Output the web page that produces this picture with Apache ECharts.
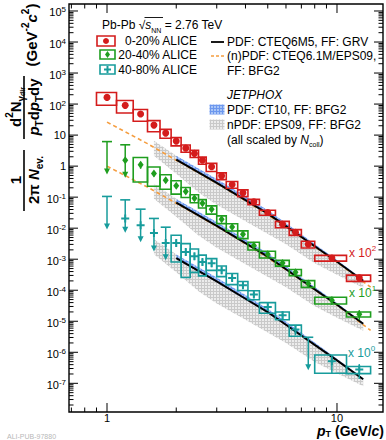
<!DOCTYPE html>
<html>
<head>
<meta charset="utf-8">
<script src="https://cdn.jsdelivr.net/npm/echarts@6.0.0/dist/echarts.min.js"></script>
<style>html,body{margin:0;padding:0;background:#fff;}#chart{width:386px;height:440px;}</style>
</head>
<body>
<div id="chart"></div>
<script>
// ---------------- data ----------------
const ptBins = [1.0,1.2,1.4,1.6,1.8,2.0,2.2,2.4,2.6,2.85,3.15,3.5,3.9,4.35,5.0,5.8,6.6,7.5,9.5,12.5];
const binLo  = [0.9,1.1,1.3,1.5,1.7,1.9,2.1,2.3,2.5,2.7,3.0,3.3,3.7,4.1,4.6,5.4,6.2,7.0,8.0,11.0];
const binHi  = [1.1,1.3,1.5,1.7,1.9,2.1,2.3,2.5,2.7,3.0,3.3,3.7,4.1,4.6,5.4,6.2,7.0,8.0,11.0,14.0];

// 0-20% (x 10^2)
const cent0020 = [164,90.8,47.6,21,11.6,6.4,3.8,2.57,1.55,0.95,0.486,0.257,0.138,0.0708,0.032,0.01346,0.0074,0.00305,0.0011,0.00025];
const sys0020  = [0.44,0.43,0.41,0.39,0.32,0.30,0.26,0.26,0.26,0.29,0.245,0.245,0.245,0.195,0.18,0.23,0.21,0.245,0.21,0.23];
const stat0020 = [0.05,0.06,0.07,0.08,0.08,0.08,0.08,0.08,0.08,0.08,0.08,0.08,0.08,0.08,0.08,0.1,0.1,0.12,0.15,0.25];

// 20-40% (x 10^1)
const cent2040 = [null,null,1.10,0.582,0.353,0.232,0.151,0.093,0.064,0.0404,0.0195,0.011,0.0064,0.00275,0.00145,0.00076,0.00038,0.000164,4.75e-5,1.68e-5];
const sys2040  = [null,null,0.72,0.615,0.49,0.46,0.355,0.29,0.30,0.30,0.28,0.26,0.28,0.28,0.245,0.21,0.22,0.245,0.245,0.18];
const stat2040 = [null,null,0.25,0.2,0.18,0.15,0.15,0.15,0.15,0.15,0.15,0.15,0.15,0.15,0.15,0.15,0.2,0.25,0.3,0.35];
const ul2040Pt   = [1.0,1.2];
const ul2040Val  = [6.17,4.87];
const ul2040Cent = [null,1.56];

// 40-80% (x 10^0)
const cent4080 = [null,null,null,null,null,0.00336,0.00172,0.00125,8.2e-4,7.4e-4,4.41e-4,2.49e-4,1.45e-4,7.26e-5,2.9e-5,1.56e-5,5.4e-6,null,5.13e-7,2.77e-7];
const sys4080  = [null,null,null,null,null,0.757,0.85,0.70,0.646,0.41,0.377,0.39,0.32,0.32,0.377,0.28,0.39,null,0.59,0.26];
const stat4080 = [null,null,null,null,null,0.25,0.25,0.25,0.25,0.25,0.25,0.2,0.2,0.2,0.25,0.3,0.35,null,0.6,0.5];
const ul4080Pt   = [1.0,1.2,1.4,1.6,1.8,7.5];
const ul4080Val  = [0.1055,0.0818,0.041,0.0206,0.01076,3.05e-6];
const ul4080Cent = [null,0.0206,0.0125,0.00705,0.00336,null];

// pQCD PDF: CTEQ6M5, FF: GRV (solid black)
const thPt     = [2,3,4,5,6,8,10,13];
const pdf0020  = [1.62,0.289,0.080,0.0294,0.0116,0.00262,8.3e-4,2.02e-4];
const pdf2040  = [0.0664,0.01185,0.00328,0.00121,4.76e-4,1.07e-4,3.4e-5,8.3e-6];
const pdf4080  = [1.076e-3,1.92e-4,5.31e-5,1.96e-5,7.7e-6,1.73e-6,5.5e-7,1.35e-7];
// JETPHOX PDF CT10 band (blue)
const ct10Hi0020 = [2.15,0.385,0.106,0.038,0.0148,0.0031,9.4e-4,2.2e-4];
const ct10Lo0020 = [1.52,0.27,0.075,0.0276,0.0109,0.00248,7.9e-4,1.94e-4];
const ct10Hi2040 = [0.088,0.0158,0.00435,0.00156,6.07e-4,1.27e-4,3.85e-5,9.0e-6];
const ct10Lo2040 = [0.0623,0.0111,0.00308,0.00113,4.47e-4,1.02e-4,3.24e-5,7.95e-6];
const ct10Hi4080 = [1.43e-3,2.56e-4,7.05e-5,2.53e-5,9.8e-6,2.06e-6,6.2e-7,1.46e-7];
const ct10Lo4080 = [1.01e-3,1.8e-4,4.98e-5,1.84e-5,7.2e-6,1.65e-6,5.25e-7,1.3e-7];
// (n)PDF CTEQ6.1M/EPS09, FF BFG2 (orange dashed)
const epsPt     = [1,1.5,2,3,4,6,8,10,14];
const eps0020   = [26.2,5.3,1.55,0.28,0.077,0.0112,0.00255,8.0e-4,1.25e-4];
const eps2040   = [1.0,0.21,0.0635,0.0115,0.00316,4.6e-4,1.04e-4,3.3e-5,5.1e-6];
// JETPHOX nPDF EPS09 band (grey)
const nbPt        = [1.6,2,2.5,3,4,6,8,10,13];
const eps09Hi0020 = [6.6,2.18,0.721,0.289,0.080,0.0116,0.00262,8.3e-4,2.02e-4];
const eps09Lo0020 = [2.16,0.573,0.1406,0.0565,0.0168,0.00305,7.4e-4,3.16e-4,1.2e-4];
const eps09Hi2040 = [0.27,0.0894,0.0296,0.01185,0.00328,4.76e-4,1.07e-4,3.4e-5,8.3e-6];
const eps09Lo2040 = [0.0886,0.0235,0.00576,0.00232,6.9e-4,1.25e-4,3.04e-5,1.3e-5,4.9e-6];
const eps09Hi4080 = [0.00437,0.00145,4.8e-4,1.92e-4,5.31e-5,7.7e-6,1.73e-6,5.5e-7,1.35e-7];
const eps09Lo4080 = [0.00144,3.8e-4,9.3e-5,3.76e-5,1.12e-5,2.0e-6,4.9e-7,2.1e-7,8.0e-8];

// axis ticks
const xTickValues = [1,10];
const xTickLabels = ['1','10'];
const xMinorValues = [0.7,0.8,0.9,2,3,4,5,6,7,8,9];
const yTickValues = [1e-7,1e-6,1e-5,1e-4,1e-3,1e-2,1e-1,1,10,1e2,1e3,1e4,1e5];
const yTickLabels = ['{n|10}{s|-7}','{n|10}{s|-6}','{n|10}{s|-5}','{n|10}{s|-4}','{n|10}{s|-3}','{n|10}{s|-2}','{n|10}{s|-1}','{n|1}','{n|10}','{n|10}{s|2}','{n|10}{s|3}','{n|10}{s|4}','{n|10}{s|5}'];

// ---------------- style ----------------
const FONT = '"Liberation Sans", Arial, Helvetica, sans-serif';
const RED = '#d41c1c', GREEN = '#1f9e1f', TEAL = '#179c9c', ORANGE = '#f59d3f';

function patternURL(c1, c2) {
  const cv = document.createElement('canvas'); cv.width = 3; cv.height = 3;
  const g = cv.getContext('2d');
  g.fillStyle = c2; g.fillRect(0,0,3,3);
  g.fillStyle = c1; g.fillRect(0,0,3,1); g.fillRect(0,0,1,3);
  return cv.toDataURL();
}
const greyFill = {image: patternURL('#c9c9c9', '#ececec'), repeat: 'repeat'};
const blueFill = {image: patternURL('#6c97ee', '#a9c5f6'), repeat: 'repeat'};

function bandSeries(pts, hi, lo, fill, z) {
  return {type:'custom', coordinateSystem:'cartesian2d', z, silent:true, data:[[pts[0], hi[0]]],
    renderItem:(params, api) => {
      const points = [];
      for (let i = 0; i < pts.length; i++) points.push(api.coord([pts[i], hi[i]]));
      for (let i = pts.length - 1; i >= 0; i--) points.push(api.coord([pts[i], lo[i]]));
      return {type:'polygon', shape:{points}, style:{fill}};
    }};
}
function lineSeries(pts, vals, color, width, dashed, z) {
  return {type:'line', z, silent:true, showSymbol:false, symbol:'none', smooth:false,
    data: pts.map((p,i)=>[p, vals[i]]),
    lineStyle:{color, width, type: dashed ? [4,3] : 'solid'}};
}
function boxSeries(cent, sys, color, z) {
  const data = [];
  cent.forEach((v,i)=>{ if (v != null) data.push([binLo[i], binHi[i], v, sys[i]]); });
  return {type:'custom', z, silent:true, data, encode:{x:0, y:2},
    renderItem:(params, api) => {
      const lo = api.value(0), hi = api.value(1), v = api.value(2), s = api.value(3);
      const a = api.coord([lo, v*(1+s)]), b = api.coord([hi, v*(1-s)]);
      return {type:'rect', shape:{x:a[0], y:a[1], width:b[0]-a[0], height:b[1]-a[1]},
        style:{fill:'none', stroke:color, lineWidth:1.6}};
    }};
}
function statSeries(cent, stat, color, z) {
  const data = [];
  cent.forEach((v,i)=>{ if (v != null) data.push([ptBins[i], v, stat[i]]); });
  return {type:'custom', z, silent:true, data,
    renderItem:(params, api) => {
      const p = api.value(0), v = api.value(1), s = api.value(2);
      const a = api.coord([p, v*(1+s)]), b = api.coord([p, v*(1-s)]);
      return {type:'line', shape:{x1:a[0], y1:a[1], x2:b[0], y2:b[1]}, style:{stroke:color, lineWidth:1.5}};
    }};
}
function markerSeries(pts, cent, color, symbol, size, z) {
  const data = [];
  cent.forEach((v,i)=>{ if (v != null) data.push([pts[i], v]); });
  return {type:'scatter', z, silent:true, data, symbol, symbolSize:size,
    itemStyle:{color, opacity:1}};
}
function ulSeries(pts, vals, color, z) {
  return {type:'custom', z, silent:true, data: pts.map((p,i)=>[p, vals[i]]),
    renderItem:(params, api) => {
      const c = api.coord([api.value(0), api.value(1)]);
      const x = c[0], y = c[1];
      return {type:'group', children:[
        {type:'line', shape:{x1:x-5, y1:y, x2:x+5, y2:y}, style:{stroke:color, lineWidth:1.6}},
        {type:'line', shape:{x1:x, y1:y, x2:x, y2:y+29}, style:{stroke:color, lineWidth:1.5}},
        {type:'polygon', shape:{points:[[x-3,y+27],[x+3,y+27],[x,y+33]]}, style:{fill:color}}
      ]};
    }};
}
const crossPath = 'path://M3,0H5V3H8V5H5V8H3V5H0V3H3Z';

function frameSeries() {
  return {type:'custom', z:50, silent:true, data:[[1,1]],
    renderItem:(params, api) => {
      const cs = params.coordSys;
      const L = cs.x, R = cs.x + cs.width, T = cs.y, B = cs.y + cs.height;
      const kids = [];
      const ln = (x1,y1,x2,y2) => ({type:'line', shape:{x1,y1,x2,y2}, style:{stroke:'#000', lineWidth:1}});
      xTickValues.forEach(v => { const x = api.coord([v,1])[0]; kids.push(ln(x,B,x,B-9), ln(x,T,x,T+9)); });
      xMinorValues.forEach(v => { const x = api.coord([v,1])[0]; if (x > L + 1 && x < R - 1) kids.push(ln(x,B,x,B-4.5), ln(x,T,x,T+4.5)); });
      yTickValues.forEach(v => { const y = api.coord([1,v])[1]; kids.push(ln(L,y,L+9,y), ln(R,y,R-9,y)); });
      for (let e = -8; e <= 5; e++) {
        for (let m = 2; m <= 9; m++) {
          const y = api.coord([1, m*Math.pow(10,e)])[1];
          if (y > T + 1 && y < B - 1) kids.push(ln(L,y,L+4.5,y), ln(R,y,R-4.5,y));
        }
      }
      kids.push({type:'rect', shape:{x:L, y:T, width:cs.width, height:cs.height}, style:{fill:'none', stroke:'#000', lineWidth:1.4}});
      xTickValues.forEach((v,i) => {
        const x = api.coord([v,1])[0];
        kids.push({type:'text', style:{text:xTickLabels[i], x, y:B+5.6, align:'center', textAlign:'center', verticalAlign:'middle', textVerticalAlign:'middle', fontSize:11, lineHeight:11, fontFamily:FONT, fill:'#000'}});
      });
      yTickValues.forEach((v,i) => {
        const y = api.coord([1,v])[1] + (yTickLabels[i].indexOf('{s|') >= 0 ? 1.5 : 0);
        kids.push({type:'text', style:{text:yTickLabels[i], x:L-3, y, align:'right', textAlign:'right', verticalAlign:'middle', textVerticalAlign:'middle', fill:'#000',
          rich:{n:{fontSize:11, fontFamily:FONT, lineHeight:13, fill:'#000'}, s:{fontSize:8, fontFamily:FONT, lineHeight:8, verticalAlign:'top', fill:'#000'}}}});
      });
      return {type:'group', children:kids};
    }};
}

// rich styles for texts
function richSet(size, color, lhFactor) {
  const lh = Math.round(size*(lhFactor||1.45));
  return {
    n:{fontSize:size, fontFamily:FONT, lineHeight:lh, fill:color, color},
    i:{fontSize:size, fontFamily:FONT, fontStyle:'italic', lineHeight:lh, fill:color, color},
    b:{fontSize:size, fontFamily:FONT, fontWeight:'bold', lineHeight:lh, fill:color, color},
    bi:{fontSize:size, fontFamily:FONT, fontWeight:'bold', fontStyle:'italic', lineHeight:lh, fill:color, color},
    sp:{fontSize:Math.round(size*0.66), fontFamily:FONT, fontWeight:'bold', lineHeight:Math.round(size*0.66), verticalAlign:'top', fill:color, color},
    sup:{fontSize:Math.round(size*0.66), fontFamily:FONT, lineHeight:Math.round(size*0.66), verticalAlign:'top', fill:color, color},
    sb:{fontSize:Math.round(size*0.66), fontFamily:FONT, fontWeight:'bold', lineHeight:Math.round(size*0.66), verticalAlign:'bottom', fill:color, color},
    sub:{fontSize:Math.round(size*0.62), fontFamily:FONT, lineHeight:Math.round(size*0.62), verticalAlign:'bottom', fill:color, color},
    ssb:{fontSize:Math.round(size*0.48), fontFamily:FONT, fontWeight:'bold', lineHeight:Math.round(size*0.2), verticalAlign:'bottom', fill:color, color}
  };
}
function txt(x, y, text, size, color, align, extra, lhFactor) {
  return Object.assign({type:'text', x, y, silent:true, z:100,
    style:{text, x:0, y:0, align:align||'left', textAlign:align||'left', verticalAlign:'middle', textVerticalAlign:'middle',
      fontSize:size, fontFamily:FONT, fill:color, rich:richSet(size, color, lhFactor)}}, extra||{});
}
function gline(x1,y1,x2,y2,color,w,dash) {
  return {type:'line', silent:true, z:100, shape:{x1,y1,x2,y2}, style:{stroke:color, lineWidth:w, lineDash:dash||null}};
}

const ROT = Math.PI/2;
const graphics = [
  // y-axis title (rotated)
  txt(15, 107, '{b|d}{sp|2}{b|N}{sb|γ}{ssb|dir}', 15, '#000', 'center', {rotation:ROT}),
  txt(33, 107, '{bi|p}{sb|T}{b|d}{bi|p}{sb|T}{b|dy}', 15, '#000', 'center', {rotation:ROT}),
  gline(24, 76, 24, 139, '#000', 1.6),
  txt(15, 180, '{b|1}', 15, '#000', 'center', {rotation:ROT}),
  txt(33, 180, '{b|2π }{bi|N}{sb|ev.}', 15, '#000', 'center', {rotation:ROT}),
  gline(24, 150, 24, 211, '#000', 1.6),
  txt(31, 35, '{b|(GeV}{sp|-2}{bi|c}{sp|2}{b|)}', 15, '#000', 'center', {rotation:ROT}),
  // x-axis title
  txt(384, 431, '{bi|p}{sb|T}{b| (GeV/}{bi|c}{b|)}', 14, '#000', 'right', null, 1.0),
  // legend left
  txt(102, 25, '{n|Pb-Pb }{n|√}{i|s}{sub|NN}{n| = 2.76 TeV}', 12, '#000', 'left'),
  gline(144.5, 17.5, 163, 17.5, '#000', 0.9),
  {type:'rect', silent:true, z:100, shape:{x:97, y:36, width:18, height:10}, style:{fill:'none', stroke:RED, lineWidth:1.6}},
  {type:'circle', silent:true, z:100, shape:{cx:106, cy:41, r:3}, style:{fill:RED}},
  txt(197, 41, '{n|0-20% ALICE}', 12, '#000', 'right'),
  {type:'rect', silent:true, z:100, shape:{x:100, y:50, width:15, height:9}, style:{fill:'none', stroke:GREEN, lineWidth:1.6}},
  {type:'polygon', silent:true, z:100, shape:{points:[[107.5,51],[110,54.5],[107.5,58],[105,54.5]]}, style:{fill:GREEN}},
  txt(197, 55, '{n|20-40% ALICE}', 12, '#000', 'right'),
  {type:'rect', silent:true, z:100, shape:{x:100, y:65, width:15, height:9}, style:{fill:'none', stroke:TEAL, lineWidth:1.6}},
  gline(104, 69.5, 111, 69.5, TEAL, 2), gline(107.5, 66, 107.5, 73, TEAL, 2),
  txt(197, 69.5, '{n|40-80% ALICE}', 12, '#000', 'right'),
  // legend right
  gline(211, 42, 224, 42, '#000', 1.8),
  txt(227, 42, '{n|PDF: CTEQ6M5, FF: GRV}', 12, '#000', 'left'),
  gline(211, 56, 224, 56, ORANGE, 1.5, [3,2]),
  txt(227, 56, '{n|(n)PDF: CTEQ6.1M/EPS09,}', 12, '#000', 'left'),
  txt(227, 70.5, '{n|FF: BFG2}', 12, '#000', 'left'),
  txt(227, 94.5, '{i|JETPHOX}', 12, '#000', 'left'),
  {type:'rect', silent:true, z:100, shape:{x:209.5, y:104.5, width:15, height:10}, style:{fill:blueFill}},
  txt(227, 109.5, '{n|PDF: CT10, FF: BFG2}', 12, '#000', 'left'),
  {type:'rect', silent:true, z:100, shape:{x:209.5, y:119.5, width:15, height:10}, style:{fill:greyFill}},
  txt(227, 124.5, '{n|nPDF: EPS09, FF: BFG2}', 12, '#000', 'left'),
  txt(227, 139.5, '{n|(all scaled by }{i|N}{sub|coll}{n|)}', 12, '#000', 'left'),
  // scale labels
  txt(349, 253, '{n|x 10}{sup|2}', 12, RED, 'left'),
  txt(349, 293, '{n|x 10}{sup|1}', 12, GREEN, 'left'),
  txt(348, 353, '{n|x 10}{sup|0}', 12, TEAL, 'left'),
  // watermark
  txt(7, 436, '{n|ALI-PUB-97880}', 7, '#b8b8b8', 'left')
];

const chart = echarts.init(document.getElementById('chart'), null, {renderer:'svg', width:386, height:440});
const axisCommon = {axisLine:{show:false}, axisTick:{show:false}, axisLabel:{show:false}, splitLine:{show:false}, minorTick:{show:false}, minorSplitLine:{show:false}};
chart.setOption({
  animation:false,
  backgroundColor:'#fff',
  grid:{left:69, right:3, top:4, bottom:28, show:false},
  xAxis:Object.assign({type:'log', logBase:10, min:0.6835, max:15.85}, axisCommon),
  yAxis:Object.assign({type:'log', logBase:10, min:1.19e-8, max:1.68e5}, axisCommon),
  series:[
    bandSeries(nbPt, eps09Hi0020, eps09Lo0020, greyFill, 1),
    bandSeries(nbPt, eps09Hi2040, eps09Lo2040, greyFill, 1),
    bandSeries(nbPt, eps09Hi4080, eps09Lo4080, greyFill, 1),
    bandSeries(thPt, ct10Hi0020, ct10Lo0020, blueFill, 2),
    bandSeries(thPt, ct10Hi2040, ct10Lo2040, blueFill, 2),
    bandSeries(thPt, ct10Hi4080, ct10Lo4080, blueFill, 2),
    lineSeries(epsPt, eps0020, ORANGE, 1.6, true, 3),
    lineSeries(epsPt, eps2040, ORANGE, 1.6, true, 3),
    lineSeries(thPt, pdf0020, '#000', 2, false, 4),
    lineSeries(thPt, pdf2040, '#000', 2, false, 4),
    lineSeries(thPt, pdf4080, '#000', 2, false, 4),
    boxSeries(cent0020, sys0020, RED, 5),
    boxSeries(cent2040, sys2040, GREEN, 5),
    boxSeries(cent4080, sys4080, TEAL, 5),
    statSeries(cent0020, stat0020, RED, 6),
    statSeries(cent2040, stat2040, GREEN, 6),
    statSeries(cent4080, stat4080, TEAL, 6),
    ulSeries(ul2040Pt, ul2040Val, GREEN, 6),
    ulSeries(ul4080Pt, ul4080Val, TEAL, 6),
    markerSeries(ptBins, cent0020, RED, 'circle', 7, 7),
    markerSeries(ptBins, cent2040, GREEN, 'diamond', [6,8], 7),
    markerSeries(ptBins, cent4080, TEAL, crossPath, 8, 7),
    markerSeries(ul2040Pt, ul2040Cent, GREEN, 'diamond', [6,8], 7),
    markerSeries(ul4080Pt, ul4080Cent, TEAL, crossPath, 8, 7),
    frameSeries()
  ],
  graphic: graphics
});
</script>
</body>
</html>
